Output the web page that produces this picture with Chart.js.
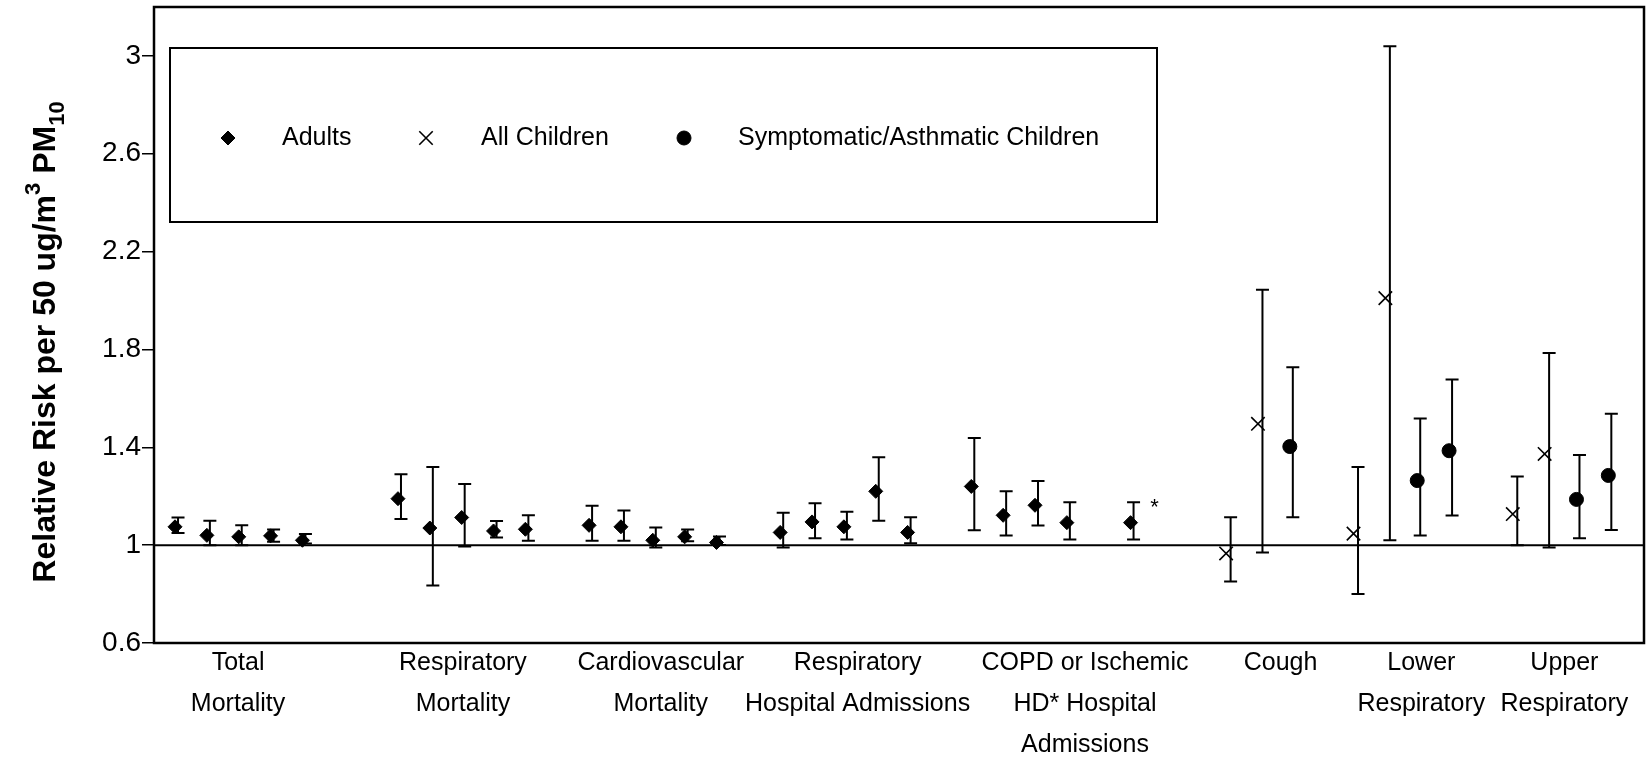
<!DOCTYPE html>
<html>
<head>
<meta charset="utf-8">
<script src="https://cdn.jsdelivr.net/npm/chart.js@4.4.1/dist/chart.umd.min.js"></script>
<style>
  html, body { margin: 0; padding: 0; background: #fff; }
  #wrap { width: 1648px; height: 759px; }
</style>
</head>
<body>
<div id="wrap"><canvas id="c"></canvas></div>
<script>
// outcome groups along the bottom, and where each label sits (in study slots)
const groupLabels = [
  ["Total", "Mortality"],
  ["Respiratory", "Mortality"],
  ["Cardiovascular", "Mortality"],
  ["Respiratory", "Hospital Admissions"],
  ["COPD or Ischemic", "HD* Hospital", "Admissions"],
  ["Cough"],
  ["Lower", "Respiratory"],
  ["Upper", "Respiratory"]
];
const groupLabelPos = [1.98, 9.04, 15.25, 21.43, 28.57, 34.71, 39.13, 43.62];
const yTicks = [0.6, 1, 1.4, 1.8, 2.2, 2.6, 3];

// Adults (diamonds)
const adultX  = [0, 1, 2, 3, 4, 7, 8, 9, 10, 11, 13, 14, 15, 16, 17, 19, 20, 21, 22, 23, 25, 26, 27, 28, 30];
const adultRR = [1.075, 1.04, 1.034, 1.038, 1.02, 1.19, 1.07, 1.113, 1.058, 1.065, 1.081, 1.075, 1.02, 1.034, 1.011,
                 1.052, 1.095, 1.075, 1.22, 1.052, 1.24, 1.122, 1.163, 1.092, 1.092];
const adultLo = [1.05, 1.0, 1.0, 1.014, 1.007, 1.107, 0.835, 0.995, 1.031, 1.018, 1.018, 1.018, 0.99, 1.016, 1.001,
                 0.99, 1.028, 1.023, 1.10, 1.008, 1.061, 1.039, 1.08, 1.023, 1.023];
const adultHi = [1.113, 1.10, 1.081, 1.064, 1.046, 1.29, 1.32, 1.25, 1.099, 1.122, 1.161, 1.142, 1.072, 1.064, 1.035,
                 1.132, 1.171, 1.137, 1.359, 1.114, 1.438, 1.22, 1.262, 1.175, 1.175];

// All children (crosses)
const childX  = [33, 34, 37, 38, 42, 43];
const childRR = [0.966, 1.496, 1.047, 2.01, 1.127, 1.373];
const childLo = [0.851, 0.97, 0.80, 1.02, 1.0, 0.99];
const childHi = [1.114, 2.044, 1.32, 3.04, 1.281, 1.786];

// Symptomatic / asthmatic children (dots)
const asthX  = [35, 39, 40, 44, 45];
const asthRR = [1.403, 1.264, 1.386, 1.187, 1.285];
const asthLo = [1.114, 1.039, 1.121, 1.028, 1.062];
const asthHi = [1.727, 1.518, 1.677, 1.369, 1.537];

// footnote mark next to one study
const noteSlot = 30;
const noteText = "*";

const FONT = "'Liberation Sans', Arial, sans-serif";

function pts(xs, rr, lo, hi) {
  return xs.map((x, i) => ({ x: x, y: rr[i], lo: lo[i], hi: hi[i] }));
}

const errorBars = {
  id: 'errorBars',
  beforeDatasetsDraw(chart) {
    const { ctx, chartArea, scales: { x, y } } = chart;
    ctx.save();
    ctx.strokeStyle = '#000';
    ctx.lineWidth = 2;
    const y1 = y.getPixelForValue(1);
    ctx.beginPath();
    ctx.moveTo(chartArea.left, y1);
    ctx.lineTo(chartArea.right, y1);
    ctx.stroke();
    chart.data.datasets.forEach(ds => {
      ds.data.forEach(d => {
        const px = x.getPixelForValue(d.x) + ds.barShift;
        const top = y.getPixelForValue(d.hi);
        const bot = y.getPixelForValue(d.lo);
        ctx.beginPath();
        ctx.moveTo(px, top); ctx.lineTo(px, bot);
        ctx.moveTo(px - 6.5, top); ctx.lineTo(px + 6.5, top);
        ctx.moveTo(px - 6.5, bot); ctx.lineTo(px + 6.5, bot);
        ctx.stroke();
      });
    });
    ctx.restore();
  }
};

const extras = {
  id: 'extras',
  afterDraw(chart) {
    const { ctx, chartArea: ca, scales: { x, y } } = chart;
    ctx.save();
    // frame
    ctx.strokeStyle = '#000';
    ctx.lineWidth = 2.5;
    ctx.strokeRect(ca.left, ca.top, ca.right - ca.left, ca.bottom - ca.top);

    // footnote asterisk
    ctx.fillStyle = '#000';
    ctx.font = '22px ' + FONT;
    ctx.textAlign = 'center';
    ctx.textBaseline = 'alphabetic';
    ctx.fillText(noteText, x.getPixelForValue(noteSlot) + 24, y.getPixelForValue(1.16) + 8);

    // legend box
    const bx = 170, by = 48, bw = 987, bh = 174;
    ctx.lineWidth = 2;
    ctx.strokeRect(bx, by, bw, bh);
    const ly = by + 90;
    const items = chart.data.datasets;
    const mx = [228, 426, 684];
    const tx = [282, 481, 738];
    ctx.font = '25px ' + FONT;
    ctx.textAlign = 'left';
    ctx.textBaseline = 'middle';
    items.forEach((ds, i) => {
      ctx.fillStyle = '#000';
      ctx.strokeStyle = '#000';
      ctx.lineWidth = ds.borderWidth;
      Chart.helpers.drawPoint(ctx, { pointStyle: ds.pointStyle, radius: ds.pointRadius, borderWidth: ds.borderWidth, rotation: 0 }, mx[i], ly);
      ctx.fillText(ds.label, tx[i], ly);
    });

    // y axis title with superscript / subscript
    const parts = [
      { t: 'Relative Risk per 50 ug/m', s: 32, dy: 0 },
      { t: '3', s: 22, dy: -15 },
      { t: ' PM', s: 32, dy: 0 },
      { t: '10', s: 22, dy: 9 }
    ];
    let total = 0;
    parts.forEach(p => { ctx.font = 'bold ' + p.s + 'px ' + FONT; p.w = ctx.measureText(p.t).width; total += p.w; });
    ctx.translate(55, 342);
    ctx.rotate(-Math.PI / 2);
    ctx.textAlign = 'left';
    ctx.textBaseline = 'alphabetic';
    let cx = -total / 2;
    parts.forEach(p => {
      ctx.font = 'bold ' + p.s + 'px ' + FONT;
      ctx.fillText(p.t, cx, p.dy);
      cx += p.w;
    });
    ctx.restore();
  }
};

new Chart(document.getElementById('c'), {
  type: 'scatter',
  data: {
    datasets: [
      { label: 'Adults', data: pts(adultX, adultRR, adultLo, adultHi), pointStyle: 'rectRot', pointRadius: 7,
        backgroundColor: '#000', borderColor: '#000', borderWidth: 1, barShift: 3 },
      { label: 'All Children', data: pts(childX, childRR, childLo, childHi), pointStyle: 'crossRot', pointRadius: 9.5,
        backgroundColor: '#000', borderColor: '#000', borderWidth: 1.6, barShift: 4.5 },
      { label: 'Symptomatic/Asthmatic Children', data: pts(asthX, asthRR, asthLo, asthHi), pointStyle: 'circle', pointRadius: 7,
        backgroundColor: '#000', borderColor: '#000', borderWidth: 1, barShift: 3 }
    ]
  },
  options: {
    responsive: true,
    maintainAspectRatio: false,
    animation: false,
    layout: { autoPadding: false, padding: { top: 7, right: 4, left: 0, bottom: 0 } },
    plugins: { legend: { display: false }, tooltip: { enabled: false } },
    elements: { point: { hoverRadius: 0 } },
    scales: {
      x: {
        type: 'linear',
        min: -0.66,
        max: 46.12,
        grid: { display: false, drawTicks: false },
        border: { display: false },
        afterBuildTicks: s => { s.ticks = groupLabelPos.map(v => ({ value: v })); },
        afterFit: s => { s.height = 116; s.paddingLeft = 0; s.paddingRight = 0; },
        ticks: {
          autoSkip: false,
          maxRotation: 0,
          padding: 0,
          color: '#000',
          font: { family: FONT, size: 25, lineHeight: 1.64 },
          callback: (v, i) => groupLabels[i]
        }
      },
      y: {
        type: 'linear',
        min: 0.6,
        max: 3.2,
        grid: { display: true, drawOnChartArea: false, tickLength: 12, color: '#000', lineWidth: 1.5 },
        border: { display: false },
        afterBuildTicks: s => { s.ticks = yTicks.map(v => ({ value: v })); },
        afterFit: s => { s.width = 154; s.paddingTop = 0; s.paddingBottom = 0; },
        ticks: {
          padding: 1,
          color: '#000',
          font: { family: FONT, size: 28 },
          callback: v => String(+v.toFixed(1))
        }
      }
    }
  },
  plugins: [errorBars, extras]
});
</script>
</body>
</html>
